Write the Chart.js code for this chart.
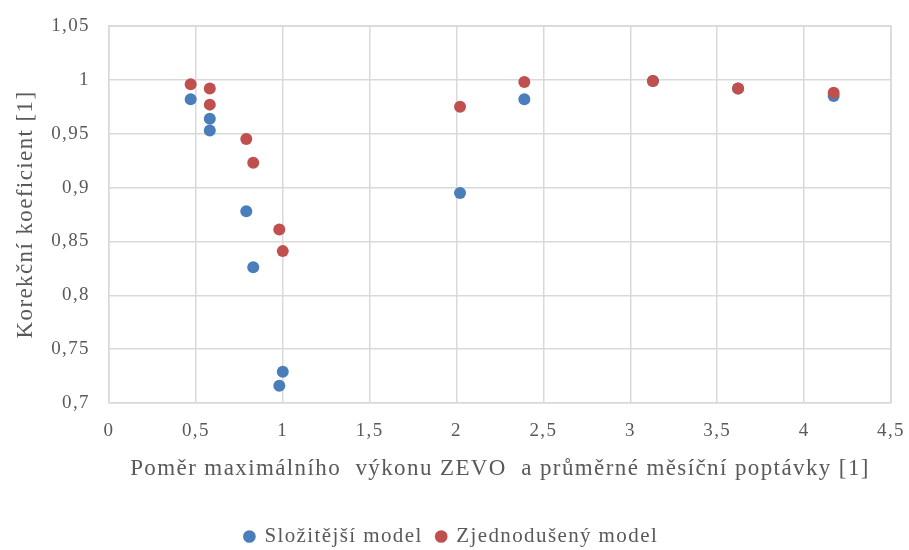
<!DOCTYPE html>
<html lang="cs">
<head>
    <meta charset="UTF-8">
    <title>Korekční koeficient</title>
    <script src="https://cdn.jsdelivr.net/npm/chart.js"></script>
    <style>
        html, body { margin: 0; padding: 0; background: #fff; }
        #wrap { width: 909px; height: 550px; }
    </style>
</head>
<body>
<div id="wrap"><canvas id="korekceChart"></canvas></div>
<script>
    // hodnoty
    const slozitejsiX = [0.47, 0.58, 0.58, 0.79, 0.83, 0.98, 1.00, 2.02, 2.39, 3.13, 3.62, 4.17];
    const slozitejsiY = [0.982, 0.964, 0.953, 0.878, 0.826, 0.716, 0.729, 0.895, 0.982, 0.999, 0.992, 0.985];
    const zjednodusenyX = [0.47, 0.58, 0.58, 0.79, 0.83, 0.98, 1.00, 2.02, 2.39, 3.13, 3.62, 4.17];
    const zjednodusenyY = [0.996, 0.992, 0.977, 0.945, 0.923, 0.861, 0.841, 0.975, 0.998, 0.999, 0.992, 0.988];

    const nazvySerii = ['Složitější model', 'Zjednodušený model'];
    const xTicks = [0, 0.5, 1, 1.5, 2, 2.5, 3, 3.5, 4, 4.5];
    const yTicks = [0.7, 0.75, 0.8, 0.85, 0.9, 0.95, 1, 1.05];

    const body = (xs, ys) => xs.map((x, i) => ({ x: x, y: ys[i] }));
    const carka = v => String(Math.round(v * 100) / 100).replace('.', ',');

    const sedy = '#595959';
    const mrizka = '#d9d9d9';
    const pismo = 'Liberation Serif';
    const rozpal = '1.4px'; // písmo v originálu je širší

    const ctx = document.getElementById('korekceChart').getContext('2d');
    new Chart(ctx, {
        type: 'scatter',
        data: {
            datasets: [
                {
                    label: nazvySerii[0],
                    data: body(slozitejsiX, slozitejsiY),
                    backgroundColor: '#4a7ebb',
                    borderColor: '#4a7ebb',
                    pointRadius: 6,
                    borderWidth: 0,
                    order: 1
                },
                {
                    label: nazvySerii[1],
                    data: body(zjednodusenyX, zjednodusenyY),
                    backgroundColor: '#c0504d',
                    borderColor: '#c0504d',
                    pointRadius: 6,
                    borderWidth: 0,
                    order: 0
                }
            ]
        },
        options: {
            responsive: true,
            maintainAspectRatio: false,
            animation: false,
            layout: { padding: { left: 12, right: 18, top: 26, bottom: -7 } },
            plugins: {
                tooltip: { enabled: false },
                legend: {
                    position: 'bottom',
                    labels: {
                        usePointStyle: true,
                        pointStyle: 'circle',
                        boxWidth: 9,
                        boxHeight: 9,
                        padding: 14,
                        color: sedy,
                        font: { family: pismo, size: 21 },
                        sort: (a, b) => a.datasetIndex - b.datasetIndex
                    }
                }
            },
            scales: {
                x: {
                    type: 'linear',
                    min: 0,
                    max: 4.5,
                    afterBuildTicks: s => { s.ticks = xTicks.map(v => ({ value: v })); },
                    afterFit: s => { s.height = 109; },
                    grid: { color: mrizka, lineWidth: 1.5, tickLength: 16, tickColor: 'rgba(0,0,0,0)' },
                    border: { color: mrizka, width: 1.5 },
                    ticks: {
                        padding: 3,
                        color: sedy,
                        font: { family: pismo, size: 19, lineHeight: 1 },
                        callback: carka
                    },
                    title: {
                        display: true,
                        text: 'Poměr maximálního  výkonu ZEVO  a průměrné měsíční poptávky [1]',
                        color: sedy,
                        font: { family: pismo, size: 23 },
                        padding: { top: 0, bottom: 29 }
                    }
                },
                y: {
                    type: 'linear',
                    min: 0.7,
                    max: 1.05,
                    afterBuildTicks: s => { s.ticks = yTicks.map(v => ({ value: v })); },
                    afterFit: s => { s.width = 97; },
                    grid: { color: mrizka, lineWidth: 1.5, tickLength: 16, tickColor: 'rgba(0,0,0,0)' },
                    border: { color: mrizka, width: 1.5 },
                    ticks: {
                        padding: 3,
                        color: sedy,
                        font: { family: pismo, size: 19, lineHeight: 1 },
                        callback: carka
                    },
                    title: {
                        display: true,
                        text: 'Korekční koeficient [1]',
                        color: sedy,
                        font: { family: pismo, size: 23 },
                        padding: { top: 0, bottom: 0 }
                    }
                }
            }
        },
        plugins: [{
            id: 'rozpalPisma',
            beforeUpdate(chart) { chart.ctx.letterSpacing = rozpal; },
            beforeDraw(chart) { chart.ctx.letterSpacing = rozpal; }
        }, {
            id: 'pravyOkraj',
            afterDraw(chart) {
                // pravý a horní okraj plochy grafu
                const a = chart.chartArea;
                const c = chart.ctx;
                c.save();
                c.strokeStyle = mrizka;
                c.lineWidth = 1.5;
                c.beginPath();
                c.moveTo(a.left, a.top);
                c.lineTo(a.right, a.top);
                c.lineTo(a.right, a.bottom);
                c.stroke();
                c.restore();
            }
        }]
    });
</script>
</body>
</html>
